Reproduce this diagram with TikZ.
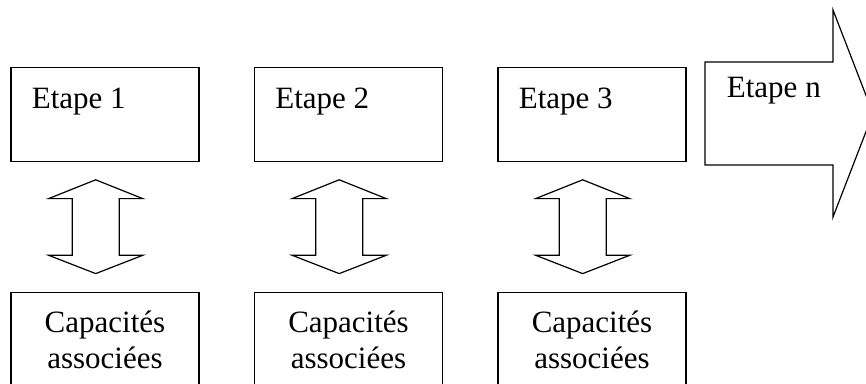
\documentclass[tikz,border=0pt]{standalone}
\usepackage{fontspec}
\setmainfont{Liberation Serif}
\usetikzlibrary{positioning}

\tikzset{
  stepbox/.style={draw, line width=1.2pt, minimum width=188pt, minimum height=94pt, inner sep=0pt, outer sep=0pt, anchor=north west},
  capbox/.style={draw, line width=1.2pt, minimum width=188pt, minimum height=130pt, inner sep=0pt, outer sep=0pt, anchor=north west},
  boxtext/.style={inner sep=0pt, font=\fontsize{31}{36}\selectfont},
  shapeline/.style={line width=1.2pt, line join=miter},
  updown/.pic={
    \draw[shapeline] (0,0) -- (47,18.8) -- (23.5,18.8) -- (23.5,75.5) -- (47,75.5) -- (0,93.8)
      -- (-47,75.5) -- (-23.5,75.5) -- (-23.5,18.8) -- (-47,18.8) -- cycle;
  }
}

\begin{document}
\begin{tikzpicture}[x=1pt, y=-1pt]
    \useasboundingbox (0,0) rectangle (866,383);
    \clip (0,0) rectangle (866,383);

    % Etape boxes
    \node[stepbox] (etape1) at (11,67.3) {};
    \node[stepbox] (etape2) at (254.5,67.3) {};
    \node[stepbox] (etape3) at (498,67.3) {};
    \node[boxtext, anchor=base west] (etape1txt) at ([shift={(20.7pt,-40.7pt)}]etape1.north west) {Etape 1};
    \node[boxtext, anchor=base west] (etape2txt) at ([shift={(20.7pt,-40.7pt)}]etape2.north west) {Etape 2};
    \node[boxtext, anchor=base west] (etape3txt) at ([shift={(20.7pt,-40.7pt)}]etape3.north west) {Etape 3};

    % Etape n (big arrow)
    \draw[shapeline] (705,62) -- (833,62) -- (833,10) -- (873,113.5) -- (833,217) -- (833,165) -- (705,165) -- cycle;
    \node[boxtext, anchor=base west] (etapentxt) at (726.7,97) {Etape n};

    % Double arrows
    \pic at ([shift={(-9.3pt,-18.5pt)}]etape1.south) {updown};
    \pic at ([shift={(-9.3pt,-18.5pt)}]etape2.south) {updown};
    \pic at ([shift={(-9.3pt,-18.5pt)}]etape3.south) {updown};

    % Capacites boxes
    \node[capbox] (cap1) at (11,292.3) {};
    \node[capbox] (cap2) at (254.5,292.3) {};
    \node[capbox] (cap3) at (498,292.3) {};
    \node[boxtext, align=center, anchor=north] (cap1txt) at ([yshift=-18.4pt]cap1.north) {Capacités\\associées};
    \node[boxtext, align=center, anchor=north] (cap2txt) at ([yshift=-18.4pt]cap2.north) {Capacités\\associées};
    \node[boxtext, align=center, anchor=north] (cap3txt) at ([yshift=-18.4pt]cap3.north) {Capacités\\associées};
\end{tikzpicture}
\end{document}
